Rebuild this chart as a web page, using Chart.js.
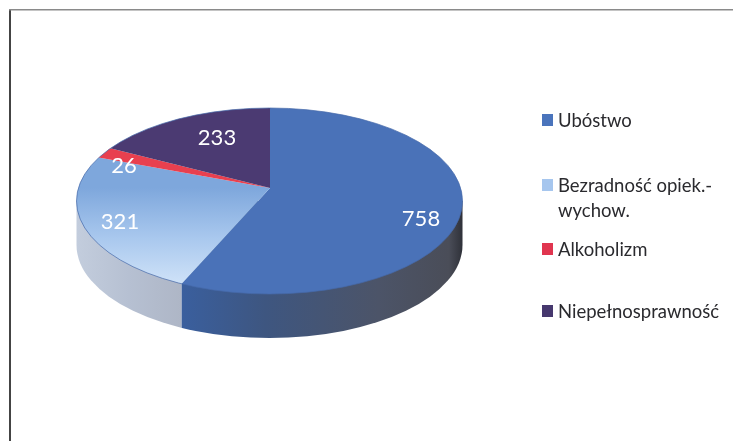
<!DOCTYPE html>
<html><head><meta charset="utf-8">
<style>html,body{margin:0;padding:0;background:#fff}#w{position:relative;width:733px;height:441px;overflow:hidden}canvas{display:block;filter:blur(0.45px)}</style>
<script src="https://cdn.jsdelivr.net/npm/chart.js@4/dist/chart.umd.min.js"></script>
</head><body><div id="w"><canvas id="c" width="733" height="441"></canvas></div>
<script>
const categories = ['Ubóstwo', 'Bezradność opiek.-wychow.', 'Alkoholizm', 'Niepełnosprawność'];
const values = [758, 321, 26, 233];
const legendLines = [['Ubóstwo'], ['Bezradność opiek.-', 'wychow.'], ['Alkoholizm'], ['Niepełnosprawność']];
const legendBaselines = [127, 192, 256, 318];
const labelOffsets = [[151, 31], [-150, 34], [-146, -22], [-53, -50]];
const sliceColors = ['#4a72b8', '#9dbfe8', '#e8404f', '#4b3a72'];
const swatchColors = ['#4a74bc', '#a6c6ee', '#e0354f', '#46386e'];

const G = {ax: 270, ay: 188, ex: 269.5, ey: 201, rx: 193, ry: 93, depth: 44, k: 1.05};
const FONT = 'Lato, "Open Sans", sans-serif';

function ellipsePath(ctx, dy) {
  ctx.beginPath();
  ctx.ellipse(G.ex, G.ey + dy, G.rx, G.ry, 0, 0, Math.PI * 2);
}
function scaleY() { return G.k * G.ry / G.rx; }

const pie3d = {
  id: 'pie3d',
  beforeDatasetsDraw(chart) {
    const ctx = chart.ctx, arcs = chart.getDatasetMeta(0).data, a = arcs[0];
    const t = a.endAngle, dx = Math.cos(t) * G.k, dy = Math.sin(t) * scaleY();
    const ox = (G.ax - G.ex) / G.rx, oy = (G.ay - G.ey) / G.ry, ux = dx / G.rx, uy = dy / G.ry;
    const A = ux * ux + uy * uy, B = 2 * (ox * ux + oy * uy), C = ox * ox + oy * oy - 1;
    const s = (-B + Math.sqrt(B * B - 4 * A * C)) / (2 * A);
    const xi = G.ax + dx * s;
    const sil = () => {
      ctx.beginPath();
      ctx.ellipse(G.ex, G.ey + G.depth, G.rx, G.ry, 0, 0, Math.PI);
      ctx.lineTo(G.ex - G.rx, G.ey);
      ctx.lineTo(G.ex + G.rx, G.ey);
      ctx.closePath();
    };
    const gl = ctx.createLinearGradient(76, 0, xi, 0);
    gl.addColorStop(0, '#c3cddd'); gl.addColorStop(0.5, '#b6c0d2'); gl.addColorStop(1, '#aeb6c6');
    ctx.save(); ctx.beginPath(); ctx.rect(0, 0, xi, 441); ctx.clip(); sil(); ctx.fillStyle = gl; ctx.fill(); ctx.restore();
    const gr = ctx.createLinearGradient(xi, 0, 463, 0);
    gr.addColorStop(0, '#3a5f9e'); gr.addColorStop(0.3, '#3e5680'); gr.addColorStop(0.7, '#4c5468'); gr.addColorStop(0.95, '#4a4d58'); gr.addColorStop(1, '#2e3038');
    ctx.save(); ctx.beginPath(); ctx.rect(xi, 0, 733, 441); ctx.clip(); sil(); ctx.fillStyle = gr; ctx.fill(); ctx.restore();
    ctx.save();
    ellipsePath(ctx, 0); ctx.clip();
    ctx.translate(G.ax, G.ay);
    ctx.scale(G.k, scaleY());
    ctx.translate(-a.x, -a.y);
  },
  afterDatasetsDraw(chart) {
    const ctx = chart.ctx;
    ctx.restore();
    ellipsePath(ctx, 0);
    ctx.strokeStyle = 'rgba(70,105,170,0.7)'; ctx.lineWidth = 1; ctx.stroke();
    ctx.save();
    ctx.font = '22px ' + FONT; ctx.textAlign = 'center'; ctx.textBaseline = 'middle';
    ctx.fillStyle = '#fff';
    values.forEach((v, i) => ctx.fillText(String(v), G.ax + labelOffsets[i][0], G.ay + labelOffsets[i][1]));
    ctx.textAlign = 'left'; ctx.textBaseline = 'alphabetic'; ctx.font = '18.5px ' + FONT;
    legendLines.forEach((lines, i) => {
      const b = legendBaselines[i];
      ctx.fillStyle = swatchColors[i];
      ctx.fillRect(542, b - 13, 11, 12);
      ctx.fillStyle = '#2a2a2e';
      lines.forEach((l, j) => ctx.fillText(l, 558, b + j * 25));
    });
    ctx.fillStyle = '#444'; ctx.fillRect(9, 9, 2, 432);
    ctx.fillStyle = '#8a8a8a'; ctx.fillRect(9, 9, 724, 1.5);
    ctx.restore();
  }
};

new Chart(document.getElementById('c'), {
  type: 'pie',
  data: {labels: categories, datasets: [{
    data: values,
    borderWidth: 0,
    backgroundColor(ctx) {
      if (ctx.dataIndex === 1 && ctx.chart.chartArea) {
        const g = ctx.chart.ctx.createLinearGradient(0, ctx.chart.chartArea.top + 220, 0, ctx.chart.chartArea.top + 441);
        g.addColorStop(0, '#7ea7dc'); g.addColorStop(0.45, '#a9c8ee'); g.addColorStop(1, '#dcebfb');
        return g;
      }
      return sliceColors[ctx.dataIndex];
    }
  }]},
  options: {
    responsive: false, animation: false, rotation: 0,
    layout: {padding: 0},
    plugins: {legend: {display: false}, tooltip: {enabled: false}, title: {display: false}}
  },
  plugins: [pie3d]
});
</script></body></html>
